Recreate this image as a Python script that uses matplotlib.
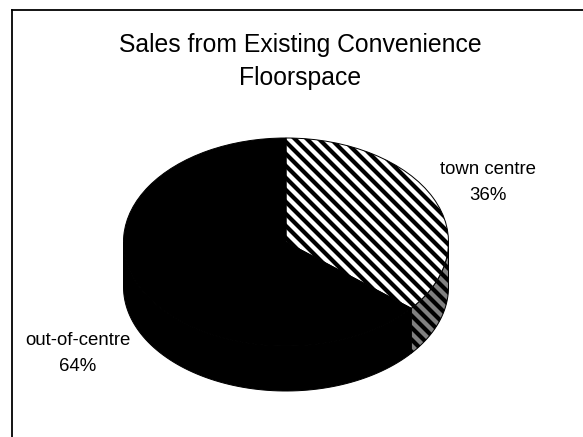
import numpy as np
import matplotlib
matplotlib.use("Agg")
import matplotlib.pyplot as plt

title = "Sales from Existing Convenience\nFloorspace"
labels = ["town centre", "out-of-centre"]
values = [36, 64]

plt.rcParams["font.family"] = "Liberation Sans"
plt.rcParams["hatch.linewidth"] = 4.2

DPI = 72
W, H = 583, 437
# pie position in pixels
cx, cy, rx, ry = 286, 242, 162.5, 104
depth = 45 / ry

fig = plt.figure(figsize=(W / DPI, H / DPI), dpi=DPI)
ax = fig.add_axes([12 / W, 0, 1 - 12 / W, (H - 10) / H])

# side wall, drawn first so the top of the pie sits over it
split = 90 - values[0] / sum(values) * 360
t = np.radians(np.linspace(split, 0, 40))
xs = np.concatenate([np.cos(t), np.cos(t[::-1])])
ys = np.concatenate([np.sin(t), np.sin(t[::-1]) - depth])
ax.fill(xs, ys, facecolor="#808080", edgecolor="black", hatch="\\\\", linewidth=1)

t = np.radians(np.linspace(split, -180, 80))
xs = np.concatenate([np.cos(t), np.cos(t[::-1])])
ys = np.concatenate([np.sin(t), np.sin(t[::-1]) - depth])
ax.fill(xs, ys, facecolor="black", edgecolor="black", linewidth=1)

wedges, _ = ax.pie(values, startangle=90, counterclock=False, radius=1, frame=True,
                   wedgeprops={"edgecolor": "black", "linewidth": 1})
wedges[0].set_facecolor("white")
wedges[0].set_hatch("\\\\")
wedges[1].set_facecolor("black")

ax.set_aspect("auto")
ax.set_xlim((12 - cx) / rx, (W - cx) / rx)
ax.set_ylim((cy - H) / ry, (cy - 10) / ry)
ax.set_xticks([])
ax.set_yticks([])
ax.spines["right"].set_visible(False)
ax.spines["bottom"].set_visible(False)
ax.spines["left"].set_linewidth(1.8)
ax.spines["top"].set_linewidth(1.8)

fig.text(300 / W, 1 - 85 / H, title, ha="center", va="baseline", fontsize=24.75,
         linespacing=1.48)
ax.text((488 - cx) / rx, (cy - 200) / ry, f"{labels[0]}\n{values[0]}%", ha="center",
        va="baseline", fontsize=18.6, linespacing=1.69)
ax.text((77.5 - cx) / rx, (cy - 371) / ry, f"{labels[1]}\n{values[1]}%", ha="center",
        va="baseline", fontsize=18.6, linespacing=1.69)

fig.savefig("out.png", dpi=DPI)
